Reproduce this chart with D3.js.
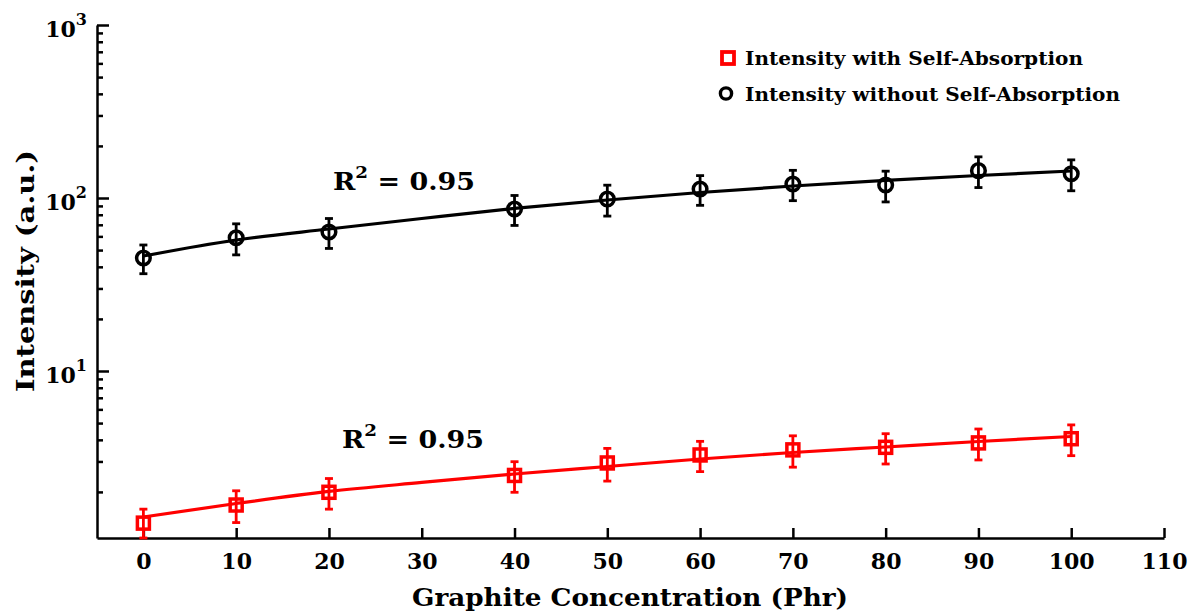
<!DOCTYPE html>
<html><head><meta charset="utf-8">
<script src="https://cdn.jsdelivr.net/npm/d3@7"></script>
<style>
body{margin:0;background:#fff}
svg{display:block}
text{font-family:"DejaVu Serif",serif;font-weight:bold;fill:#000}
.cond{font-family:"DejaVu Serif Condensed","DejaVu Serif",serif;font-stretch:condensed}
</style>
</head><body>
<script>
// ---- data ----
const xTickValues = [0,10,20,30,40,50,60,70,80,90,100,110];
const concentration = [0,10,20,40,50,60,70,80,90,100];
const withoutSA = [45.0,58.9,63.6,86.4,98.6,112.7,120.5,118.9,143.9,138.1];
const withoutSAErr = [8.5,12,12.5,17,20,22,24,24,29,28];
const withSA = [1.32,1.68,1.99,2.49,2.94,3.27,3.50,3.62,3.84,4.06];
const withSAErr = [0.27,0.35,0.40,0.50,0.63,0.65,0.72,0.72,0.78,0.82];
const fitX = [0,10,20,30,40,50,60,70,80,90,100];
const fitWithout = [46.2,57.2,66.2,76.1,87.0,97.4,107.6,117.3,126.3,134.9,143.2];
const fitWith = [1.433,1.714,2.012,2.268,2.539,2.805,3.099,3.380,3.637,3.913,4.182];
const yMajorTicks = [10,100,1000];
const yMajorExp = ["1","2","3"];
const legendLabels = ["Intensity with Self-Absorption","Intensity without Self-Absorption"];
const r2Label = "0.95";

const W = 1197, H = 611;
const svg = d3.select("body").append("svg").attr("width",W).attr("height",H);

const x = d3.scaleLinear().domain([-5,110]).range([97,1164]);
const y = d3.scaleLog().domain([1.083,1000]).range([538,25]).clamp(true);

// minor ticks
const minorTicks = [];
[1,10,100].forEach(d=>{for(let k=2;k<=9;k++){const v=d*k; if(v>=1.083&&v<=1000) minorTicks.push(v);} });

// y axis
const yAxisG = svg.append("g").attr("transform","translate(97,0)");
yAxisG.call(d3.axisRight(y).tickValues(minorTicks).tickSize(6).tickSizeOuter(0).tickFormat(""));
yAxisG.append("g").call(d3.axisRight(y).tickValues(yMajorTicks).tickSize(12).tickSizeOuter(0).tickFormat("")).select(".domain").remove();
yAxisG.selectAll("path,line").attr("stroke","#000").attr("stroke-width",2.5);

// y labels
const yl = svg.append("g");
yMajorTicks.forEach((v,i)=>{
  const t = yl.append("text").attr("x",87).attr("y",y(v)+12).attr("text-anchor","end").attr("font-size",22);
  t.append("tspan").text("10");
  t.append("tspan").attr("font-size",16).attr("dy",-12).text(yMajorExp[i]);
});

// x axis
const xAxisG = svg.append("g").attr("transform","translate(0,538)");
xAxisG.call(d3.axisBottom(x).tickValues(xTickValues).tickSize(-10).tickSizeOuter(0).tickPadding(15).tickFormat(d3.format("d")));
xAxisG.selectAll("path,line").attr("stroke","#000").attr("stroke-width",2.5);
xAxisG.selectAll("text").attr("font-size",22).attr("fill","#000")
  .style("font-family","DejaVu Serif, serif").style("font-weight","bold").attr("dy","0.71em");

// axis titles
svg.append("text").attr("class","cond").attr("x",630).attr("y",606).attr("text-anchor","middle")
  .attr("font-size",25).attr("textLength",436).attr("lengthAdjust","spacingAndGlyphs").text("Graphite Concentration (Phr)");
svg.append("text").attr("class","cond").attr("transform","translate(34,271) rotate(-90)").attr("text-anchor","middle")
  .attr("font-size",24).attr("textLength",242).attr("lengthAdjust","spacingAndGlyphs").text("Intensity (a.u.)");

// fit lines
const line = d3.line().curve(d3.curveMonotoneX);
svg.append("path").attr("d",line(fitX.map((d,i)=>[x(d),y(fitWithout[i])]))).attr("fill","none").attr("stroke","#000").attr("stroke-width",3.2);
svg.append("path").attr("d",line(fitX.map((d,i)=>[x(d),y(fitWith[i])]))).attr("fill","none").attr("stroke","#ff0000").attr("stroke-width",3.2);

function errorBars(vals, errs, color){
  const g = svg.append("g").attr("stroke",color).attr("stroke-width",2.8).attr("fill","none");
  concentration.forEach((c,i)=>{
    const cx = x(c), y1 = y(vals[i]+errs[i]), y0 = y(vals[i]-errs[i]);
    g.append("line").attr("x1",cx).attr("x2",cx).attr("y1",y1).attr("y2",y0);
    g.append("line").attr("x1",cx-4).attr("x2",cx+4).attr("y1",y1).attr("y2",y1);
    g.append("line").attr("x1",cx-4).attr("x2",cx+4).attr("y1",y0).attr("y2",y0);
  });
}
errorBars(withoutSA, withoutSAErr, "#000");
errorBars(withSA, withSAErr, "#ff0000");

// markers
svg.append("g").selectAll("circle").data(concentration).join("circle")
  .attr("cx",d=>x(d)).attr("cy",(d,i)=>y(withoutSA[i])).attr("r",6.8)
  .attr("fill","none").attr("stroke","#000").attr("stroke-width",3.5);
svg.append("g").selectAll("rect").data(concentration).join("rect")
  .attr("x",d=>x(d)-6).attr("y",(d,i)=>y(withSA[i])-6).attr("width",12).attr("height",12)
  .attr("fill","none").attr("stroke","#ff0000").attr("stroke-width",3.5);

// R^2 labels
function r2(xp, yp){
  const t = svg.append("text").attr("x",xp).attr("y",yp).attr("font-size",25)
    .attr("textLength",142).attr("lengthAdjust","spacingAndGlyphs");
  t.append("tspan").text("R");
  t.append("tspan").attr("font-size",17).attr("dy",-12).text("2");
  t.append("tspan").attr("dy",12).text(" = " + r2Label);
}
r2(333,190);
r2(342,448);

// legend
const lg = svg.append("g");
lg.append("rect").attr("x",722).attr("y",52).attr("width",12).attr("height",12).attr("fill","none").attr("stroke","#ff0000").attr("stroke-width",3.8);
lg.append("circle").attr("cx",726).attr("cy",93.5).attr("r",5.6).attr("fill","none").attr("stroke","#000").attr("stroke-width",3.4);
lg.append("text").attr("x",745).attr("y",65).attr("font-size",19).attr("textLength",338).attr("lengthAdjust","spacingAndGlyphs").text(legendLabels[0]);
lg.append("text").attr("x",745).attr("y",101).attr("font-size",19).attr("textLength",375).attr("lengthAdjust","spacingAndGlyphs").text(legendLabels[1]);
</script>
</body></html>
